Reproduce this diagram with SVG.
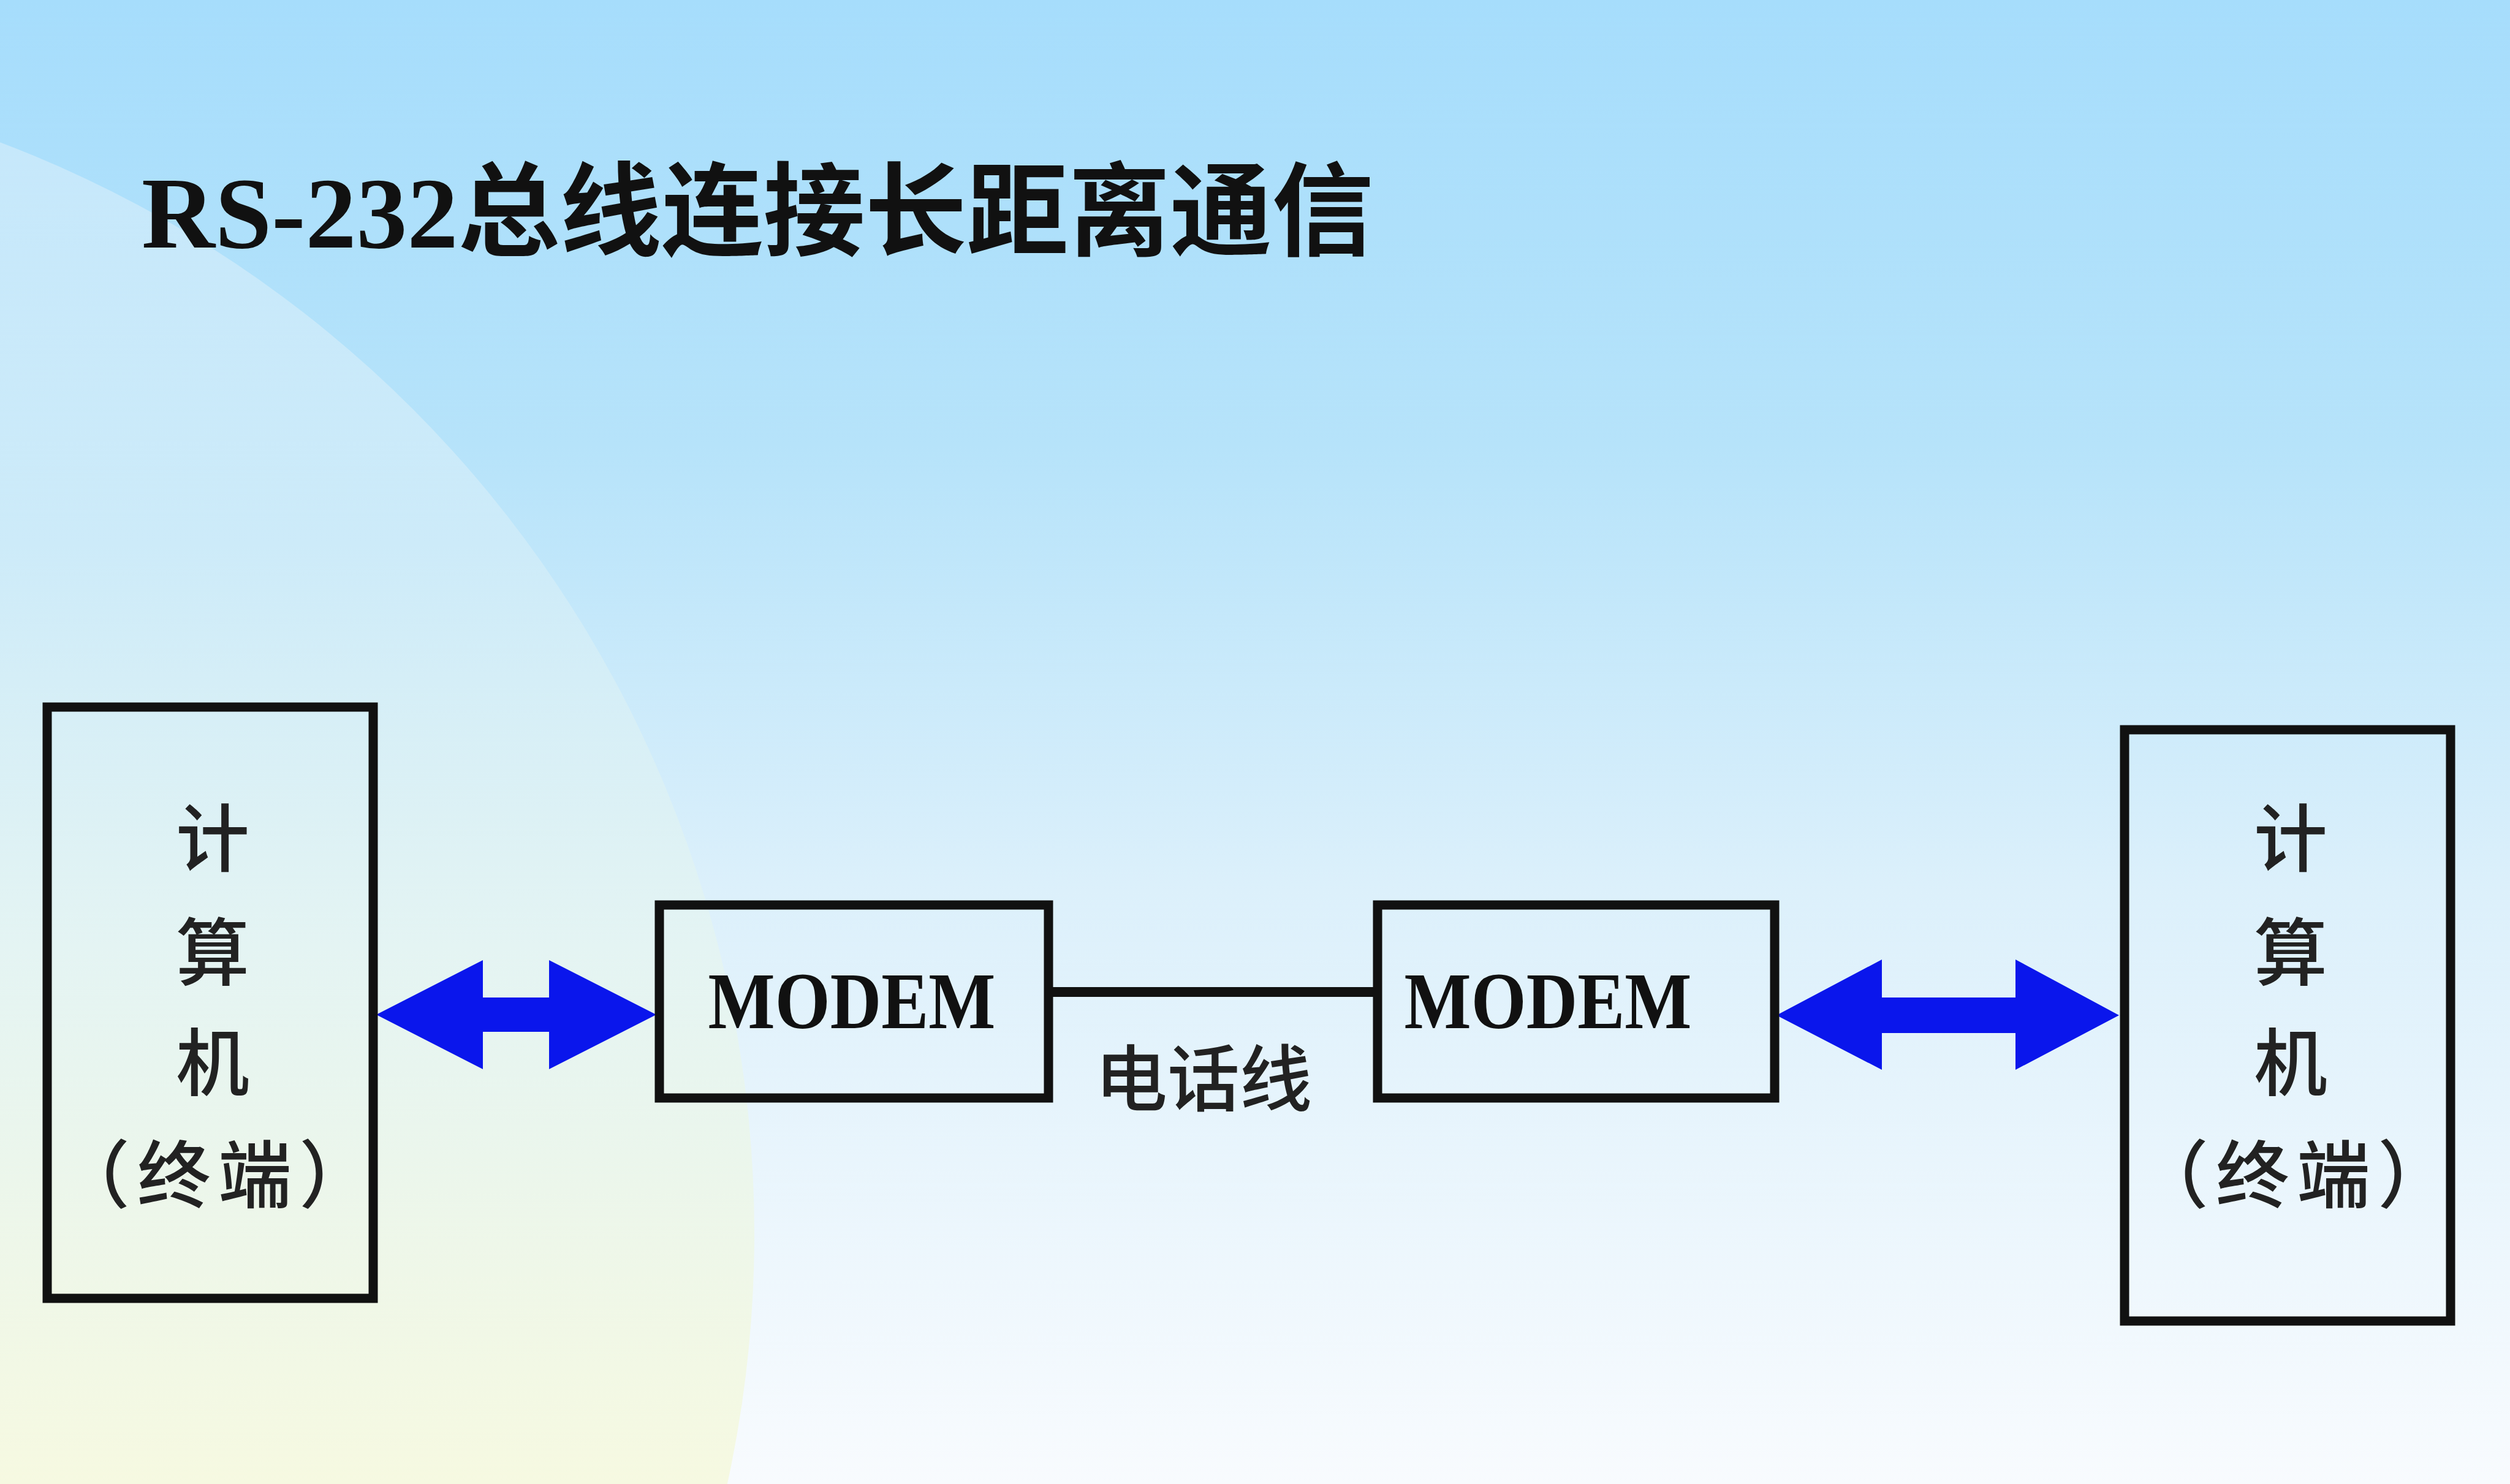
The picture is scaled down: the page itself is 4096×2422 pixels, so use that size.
<svg xmlns="http://www.w3.org/2000/svg" width="4096" height="2422" viewBox="0 0 4096 2422">
  <defs>
    <linearGradient id="bg" x1="0" y1="0" x2="0" y2="1">
      <stop offset="0" stop-color="#a6ddfc"/>
      <stop offset="0.3" stop-color="#b6e3fa"/>
      <stop offset="0.6" stop-color="#dcf0fb"/>
      <stop offset="1" stop-color="#f8fbfe"/>
    </linearGradient>
    <linearGradient id="swoosh" gradientUnits="userSpaceOnUse" x1="0" y1="230" x2="0" y2="2422">
      <stop offset="0" stop-color="#c6e8fb"/>
      <stop offset="0.3" stop-color="#cdebf9"/>
      <stop offset="0.6" stop-color="#e4f4f3"/>
      <stop offset="1" stop-color="#f6f9e1"/>
    </linearGradient>
    <style>
      .box { fill: none; stroke: #111; stroke-width: 15; }
      .wire { stroke: #111; stroke-width: 16; }
      .dbl { fill: #0a16ec; }
      .cn { font-family: "Noto Sans CJK SC", sans-serif; font-weight: 500; font-size: 120px; fill: #222; text-anchor: middle; }
      .paren { letter-spacing: 12px; }
      .modem { font-family: "Liberation Serif", serif; font-weight: bold; font-size: 131px; fill: #111; text-anchor: middle; }
      .title { font-family: "Liberation Serif", "Noto Sans CJK SC", serif; font-weight: bold; font-size: 166px; fill: #111; }
      .lbl { font-family: "Noto Sans CJK SC", sans-serif; font-weight: 500; font-size: 118px; fill: #222; text-anchor: middle; }
    </style>
  </defs>

  <rect x="0" y="0" width="4096" height="2422" fill="url(#bg)"/>
  <circle cx="-674" cy="2014" r="1905" fill="url(#swoosh)"/>

  <text class="title" x="231" y="404">RS-232总线连接长距离通信</text>

  <g id="connectors">
    <line class="wire" x1="1711" y1="1619" x2="2248" y2="1619"/>
    <text class="lbl" x="1964" y="1804">电话线</text>
    <polygon class="dbl" points="614,1656 788,1567 788,1628 896,1628 896,1567 1071,1656 896,1745 896,1684 788,1684 788,1745"/>
    <polygon class="dbl" points="2899,1657 3071,1566 3071,1628 3289,1628 3289,1566 3458,1657 3289,1746 3289,1686 3071,1686 3071,1746"/>
  </g>

  <g id="computer-left">
    <rect class="box" x="77" y="1154" width="532" height="965"/>
    <text class="cn" x="347" y="1413">计</text>
    <text class="cn" x="347" y="1599">算</text>
    <text class="cn" x="347" y="1779">机</text>
    <text class="cn paren" x="356" y="1962">（终端）</text>
  </g>

  <g id="modem-left">
    <rect class="box" x="1076" y="1477" width="635" height="315"/>
    <text class="modem" x="1390" y="1678" textLength="469" lengthAdjust="spacingAndGlyphs">MODEM</text>
  </g>

  <g id="modem-right">
    <rect class="box" x="2248" y="1477" width="648" height="315"/>
    <text class="modem" x="2526" y="1678" textLength="469" lengthAdjust="spacingAndGlyphs">MODEM</text>
  </g>

  <g id="computer-right">
    <rect class="box" x="3467" y="1191" width="532" height="965"/>
    <text class="cn" x="3738" y="1413">计</text>
    <text class="cn" x="3738" y="1599">算</text>
    <text class="cn" x="3738" y="1779">机</text>
    <text class="cn paren" x="3748" y="1962">（终端）</text>
  </g>
</svg>
